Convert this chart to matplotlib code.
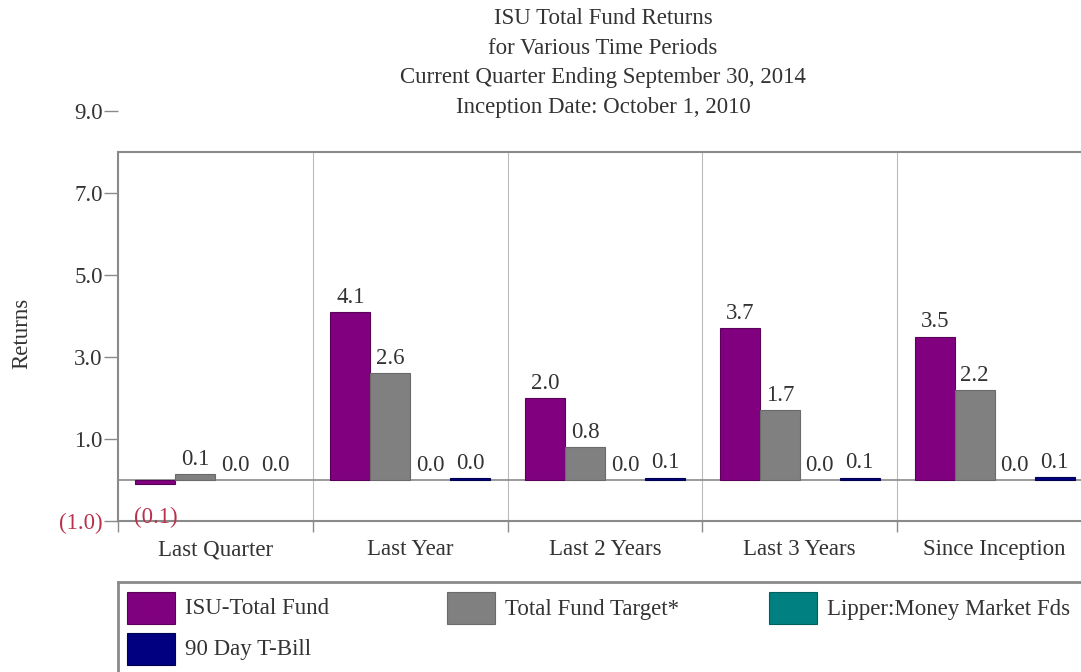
import matplotlib
matplotlib.use("Agg")
import matplotlib.pyplot as plt
from matplotlib.patches import Rectangle
from matplotlib.lines import Line2D
from matplotlib.ticker import FuncFormatter, FixedLocator
import numpy as np

plt.rcParams['font.family'] = ['Liberation Serif', 'DejaVu Serif']

# ---- data ----
categories = ["Last Quarter", "Last Year", "Last 2 Years", "Last 3 Years", "Since Inception"]
series_names = ["ISU-Total Fund", "Total Fund Target*", "Lipper:Money Market Fds", "90 Day T-Bill"]
isu_total_fund = [-0.1, 4.1, 2.0, 3.7, 3.5]
total_fund_target = [0.14, 2.6, 0.8, 1.7, 2.2]
lipper_mm = [0.0, 0.0, 0.0, 0.0, 0.0]
tbill_90 = [0.0, 0.04, 0.06, 0.06, 0.07]
y_ticks = [-1, 1, 3, 5, 7, 9]
title_lines = ["ISU Total Fund Returns", "for Various Time Periods",
               "Current Quarter Ending September 30, 2014", "Inception Date: October 1, 2010"]

series = [isu_total_fund, total_fund_target, lipper_mm, tbill_90]
colors = ["#800080", "#808080", "#008080", "#000080"]
edges = ["#5a005a", "#6a6a6a", "#006060", "#000050"]

W, H = 1081, 672
fig = plt.figure(figsize=(W / 100, H / 100), dpi=100)

def fx(px):
    return px / W

def fy(py):
    return 1 - py / H

ax_left, ax_right, ax_top, ax_bot = 118, 1092, 111, 521
ax = fig.add_axes([fx(ax_left), fy(ax_bot), (ax_right - ax_left) / W, (ax_bot - ax_top) / H])
ax.set_xlim(-0.5, len(categories) - 0.5)
ax.set_ylim(-1, 9)

FS = 16.5
TFS = 16.5
txt_color = "#333333"
neg_color = "#b8324c"
line_gray = "#8a8a8a"

bw = 40 / 195
x = np.arange(len(categories))
for i, (vals, c, ec) in enumerate(zip(series, colors, edges)):
    xs = x + (i - 1.5) * bw
    lws = [0.8 if v != 0 else 0 for v in vals]
    ax.bar(xs, vals, width=bw, color=c, edgecolor=ec, linewidth=lws, zorder=3)
    for xi, v in zip(xs, vals):
        if v < 0:
            ax.annotate(f"({abs(v):.1f})", xy=(xi, v), xytext=(0, -24), textcoords="offset points",
                        ha="center", va="center", fontsize=FS, color=neg_color, zorder=5)
        else:
            ax.annotate(f"{v:.1f}", xy=(xi, v), xytext=(0, 3), textcoords="offset points",
                        ha="center", va="bottom", fontsize=FS, color=txt_color, zorder=5)

# frame / grid
ax.axhline(0, color=line_gray, lw=1.2, zorder=2)
ax.axhline(8, color=line_gray, lw=1.5, zorder=2)
for b in np.arange(0.5, len(categories) - 0.5, 1):
    ax.plot([b, b], [-1, 8], color="#bbbbbb", lw=0.8, zorder=1)
for s in ["top", "right"]:
    ax.spines[s].set_visible(False)
ax.spines["left"].set_bounds(-1, 8)
ax.spines["left"].set_color(line_gray)
ax.spines["left"].set_linewidth(1.5)
ax.spines["bottom"].set_color(line_gray)
ax.spines["bottom"].set_linewidth(1.5)

# y axis
ax.yaxis.set_major_locator(FixedLocator(y_ticks))
ax.yaxis.set_major_formatter(FuncFormatter(lambda v, p: f"({abs(v):.1f})" if v < 0 else f"{v:.1f}"))
ax.tick_params(axis="y", length=10, width=1, color=line_gray, pad=1, labelsize=FS, labelcolor=txt_color)

# x axis: boundaries as major ticks, labels as minor
ax.xaxis.set_major_locator(FixedLocator(np.arange(-0.5, len(categories), 1)))
ax.xaxis.set_major_formatter(FuncFormatter(lambda v, p: ""))
ax.xaxis.set_minor_locator(FixedLocator(x))
ax.set_xticks(x, categories, minor=True)
ax.tick_params(axis="x", which="major", length=8, width=1, color=line_gray, direction="out")
ax.tick_params(axis="x", which="minor", length=0, pad=13, labelsize=FS, labelcolor=txt_color)

fig.canvas.draw()
for lab in ax.get_yticklabels():
    if lab.get_text().startswith("("):
        lab.set_color(neg_color)

# y label
fig.text(fx(22), fy(333), "Returns", rotation=90, ha="center", va="center", fontsize=FS, color=txt_color)

# title
for t, py in zip(title_lines, [19, 49, 78, 108]):
    fig.text(fx(603), fy(py), t, ha="center", va="center", fontsize=TFS, color=txt_color)

# legend (manual, box extends beyond figure like the reference)
fig.add_artist(Line2D([fx(118), fx(1100)], [fy(582), fy(582)], color=line_gray, lw=2))
fig.add_artist(Line2D([fx(118), fx(118)], [fy(582), fy(700)], color=line_gray, lw=2))
col_x = [127, 447, 769, 127]
row_y = [592, 592, 592, 633]
for name, c, ec, cx, ry in zip(series_names, colors, edges, col_x, row_y):
    fig.add_artist(Rectangle((fx(cx), fy(ry + 32)), 48 / W, 32 / H, facecolor=c, edgecolor=ec, lw=0.8))
    fig.text(fx(cx + 58), fy(ry + 17), name, ha="left", va="center", fontsize=FS, color=txt_color)

fig.savefig("out.png", dpi=100)
